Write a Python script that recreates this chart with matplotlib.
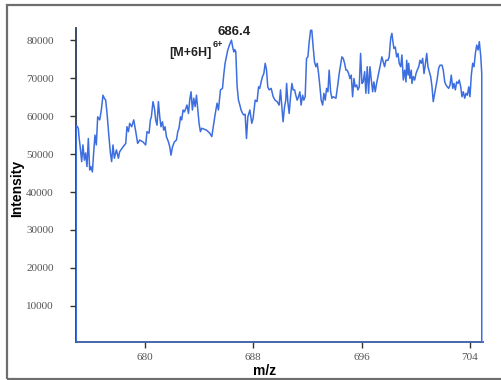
import matplotlib
matplotlib.use("Agg")
import matplotlib.pyplot as plt
from matplotlib.patches import Rectangle

# Mass spectrum (m/z vs intensity)
mz = [674.95, 674.95, 675.10, 675.15, 675.25, 675.35, 675.44, 675.55, 675.64, 675.74,
      675.84, 675.94, 676.03, 676.14, 676.23, 676.33, 676.43, 676.53, 676.68, 676.80,
      676.92, 677.02, 677.12, 677.22, 677.36, 677.47, 677.56, 677.66, 677.76, 677.91,
      678.06, 678.15, 678.40, 678.60, 678.69, 678.80, 678.89, 679.04, 679.19, 679.34,
      679.48, 679.63, 679.87, 680.07, 680.17, 680.32, 680.42, 680.49, 680.61, 680.72,
      680.81, 680.91, 681.01, 681.11, 681.20, 681.31, 681.40, 681.50, 681.60, 681.75,
      681.85, 681.94, 682.05, 682.19, 682.34, 682.44, 682.53, 682.64, 682.73, 682.83,
      682.93, 683.03, 683.12, 683.23, 683.32, 683.42, 683.52, 683.62, 683.72, 683.82,
      683.91, 684.01, 684.11, 684.21, 684.56, 684.80, 684.95, 685.04, 685.19, 685.34,
      685.44, 685.59, 685.74, 685.83, 685.93, 686.03, 686.13, 686.25, 686.40, 686.50,
      686.58, 686.64, 686.72, 686.82, 686.92, 687.02, 687.11, 687.22, 687.31, 687.41,
      687.51, 687.61, 687.76, 687.90, 688.00, 688.15, 688.29, 688.40, 688.49, 688.59,
      688.69, 688.79, 688.89, 688.99, 689.08, 689.18, 689.33, 689.48, 689.62, 689.77,
      689.92, 690.02, 690.12, 690.21, 690.32, 690.41, 690.47, 690.56, 690.66, 690.76,
      690.86, 690.95, 691.06, 691.15, 691.25, 691.35, 691.45, 691.54, 691.65, 691.74,
      691.84, 691.94, 692.04, 692.14, 692.24, 692.33, 692.43, 692.53, 692.63, 692.73,
      692.83, 692.93, 693.02, 693.13, 693.22, 693.32, 693.42, 693.52, 693.61, 693.72,
      693.81, 693.91, 694.11, 694.26, 694.35, 694.45, 694.55, 694.65, 694.75, 694.85,
      694.94, 695.05, 695.14, 695.24, 695.34, 695.44, 695.53, 695.64, 695.73, 695.83,
      695.93, 696.03, 696.12, 696.23, 696.32, 696.42, 696.52, 696.62, 696.71, 696.82,
      696.91, 697.01, 697.11, 697.26, 697.41, 697.50, 697.60, 697.70, 697.80, 697.95,
      698.04, 698.15, 698.24, 698.30, 698.39, 698.49, 698.59, 698.69, 698.78, 698.89,
      698.98, 699.08, 699.18, 699.28, 699.33, 699.43, 699.48, 699.57, 699.67, 699.72,
      699.82, 699.92, 700.02, 700.11, 700.22, 700.31, 700.41, 700.51, 700.61, 700.70,
      700.81, 700.90, 701.00, 701.10, 701.20, 701.29, 701.40, 701.49, 701.59, 701.69,
      701.79, 701.94, 702.03, 702.14, 702.23, 702.33, 702.43, 702.53, 702.62, 702.73,
      702.82, 702.92, 703.02, 703.12, 703.21, 703.32, 703.41, 703.51, 703.61, 703.71,
      703.81, 703.91, 704.00, 704.10, 704.20, 704.30, 704.40, 704.50, 704.60, 704.69,
      704.80, 704.87, 704.87]

intensity_k = [0.0, 57.6, 56.8, 54.6, 51.5, 48.0, 52.4, 48.4, 50.3, 46.7,
               54.1, 45.8, 46.7, 45.3, 50.2, 55.0, 52.4, 59.8, 59.0, 61.6,
               65.5, 64.7, 64.2, 60.7, 54.6, 50.2, 48.0, 52.4, 48.9, 51.1,
               48.9, 50.6, 51.9, 52.8, 57.2, 55.9, 58.1, 57.2, 59.0, 55.9,
               52.8, 53.7, 53.2, 52.4, 55.9, 55.5, 59.0, 59.8, 63.8, 62.0,
               59.0, 57.6, 63.8, 59.8, 57.2, 58.5, 56.3, 57.2, 54.6, 53.2,
               51.9, 49.7, 51.9, 53.2, 53.7, 55.9, 56.8, 59.8, 59.0, 61.6,
               61.1, 62.0, 62.9, 60.7, 64.2, 66.4, 61.6, 64.7, 62.5, 65.5,
               62.0, 58.1, 55.9, 56.8, 56.3, 55.5, 54.6, 56.8, 60.3, 63.4,
               61.6, 66.9, 67.3, 70.8, 73.9, 75.6, 77.4, 78.7, 80.0, 78.0,
               76.9, 77.5, 77.0, 67.7, 64.2, 62.9, 61.6, 60.7, 60.3, 60.5,
               54.1, 59.8, 61.6, 58.1, 59.4, 64.2, 63.8, 67.7, 67.3, 69.0,
               70.4, 71.2, 73.9, 72.1, 67.7, 66.9, 67.3, 65.1, 64.2, 63.8,
               62.9, 66.9, 62.5, 58.5, 62.5, 64.2, 68.6, 63.8, 60.7, 65.1,
               68.6, 66.9, 66.9, 65.5, 64.2, 65.1, 66.4, 62.9, 65.5, 64.2,
               65.1, 75.2, 75.6, 79.6, 82.6, 82.6, 78.2, 74.3, 73.0, 73.9,
               71.2, 67.7, 64.2, 62.9, 66.0, 64.2, 67.3, 66.4, 72.1, 66.4,
               64.7, 65.1, 64.7, 68.6, 71.2, 73.4, 75.6, 75.2, 73.9, 72.1,
               72.1, 71.2, 69.9, 70.8, 65.1, 69.9, 67.7, 68.2, 66.9, 67.7,
               76.5, 68.6, 69.0, 71.7, 66.0, 73.0, 66.0, 73.0, 69.9, 66.4,
               69.0, 66.4, 68.6, 71.2, 73.9, 75.6, 74.3, 73.0, 74.7, 74.7,
               75.6, 80.5, 81.8, 80.0, 77.8, 78.2, 75.6, 76.5, 73.9, 73.0,
               76.1, 69.5, 72.1, 69.0, 74.7, 70.8, 73.9, 69.9, 72.1, 68.6,
               70.4, 69.5, 71.2, 72.1, 73.0, 74.7, 73.9, 75.2, 71.2, 73.4,
               76.5, 73.0, 71.7, 70.4, 67.7, 63.8, 66.0, 67.7, 69.9, 72.6,
               73.4, 73.4, 72.1, 69.0, 68.2, 67.7, 67.3, 68.2, 70.8, 67.3,
               68.6, 66.9, 69.0, 68.6, 69.5, 67.7, 65.1, 66.4, 64.7, 66.0,
               65.5, 67.7, 65.1, 70.8, 73.9, 73.0, 76.5, 78.7, 77.4, 79.6,
               75.6, 71.2, 0.0]
intensity = [v * 1000 for v in intensity_k]

x_ticks = [680, 688, 696, 704]
y_ticks = [10000, 20000, 30000, 40000, 50000, 60000, 70000, 80000]

peak_label = "686.4"
ion_label = "[M+6H]"
charge_label = "6+"

fig = plt.figure(figsize=(5.02, 3.80), dpi=100)
fig.patch.set_facecolor("white")

# outer frame around the whole figure
fig.patches.append(Rectangle((7 / 502, 1 - 378.5 / 380), 1.2, (378.5 - 5) / 380,
                             transform=fig.transFigure, fill=False,
                             edgecolor="#6e6e6e", linewidth=1.6, zorder=0))

ax = fig.add_axes([76 / 502, 1 - 342 / 380, (482.7 - 76) / 502, (342 - 28) / 380])
ax.plot(mz, intensity, color="#3d6ee0", linewidth=1.1, zorder=3)

ax.set_xlim(674.93, 704.94)
ax.set_ylim(500, 83200)

for side in ("top", "right"):
    ax.spines[side].set_visible(False)
ax.spines["left"].set_color("#2d3b5c")
ax.spines["bottom"].set_color("#3a5aa8")
ax.spines["left"].set_linewidth(1.3)
ax.spines["bottom"].set_linewidth(1.3)

ax.set_xticks(x_ticks)
ax.set_yticks(y_ticks)
ax.set_xticklabels([str(t) for t in x_ticks])
ax.set_yticklabels([str(t) for t in y_ticks])
ax.tick_params(axis="y", direction="out", length=4, width=1, color="#333333",
               pad=12, labelsize=8, labelcolor="#555555")
ax.tick_params(axis="x", direction="out", length=4, width=1, color="#333333",
               pad=4, labelsize=8, labelcolor="#555555")
for lab in ax.get_xticklabels() + ax.get_yticklabels():
    lab.set_family("Liberation Serif")

ax.set_ylabel("Intensity", fontsize=10, fontweight="bold",
              family="Liberation Sans")
ax.yaxis.set_label_coords(-0.128, 0.49)
ax.set_xlabel("m/z", fontsize=10, fontweight="bold", family="Liberation Sans")
ax.xaxis.set_label_coords(0.463, -0.069)

# label the main peak at its own position
top_i = max(range(len(mz)), key=lambda i: intensity[i] if 685 < mz[i] < 688 else -1)
px, py = mz[top_i], intensity[top_i]
ax.annotate(peak_label, xy=(px, py), xytext=(2, 6), textcoords="offset points",
            ha="center", va="center", fontsize=9.5, fontweight="bold",
            family="Liberation Sans", color="#222222")
ax.annotate(ion_label, xy=(px, py), xytext=(-14, -9), textcoords="offset points",
            ha="right", va="center", fontsize=9, fontweight="bold",
            family="Liberation Sans", color="#222222")
ax.annotate(charge_label, xy=(px, py), xytext=(-13.5, -3), textcoords="offset points",
            ha="left", va="center", fontsize=6.5, fontweight="bold",
            family="Liberation Sans", color="#222222")

fig.savefig("out.png", dpi=100, facecolor="white")
